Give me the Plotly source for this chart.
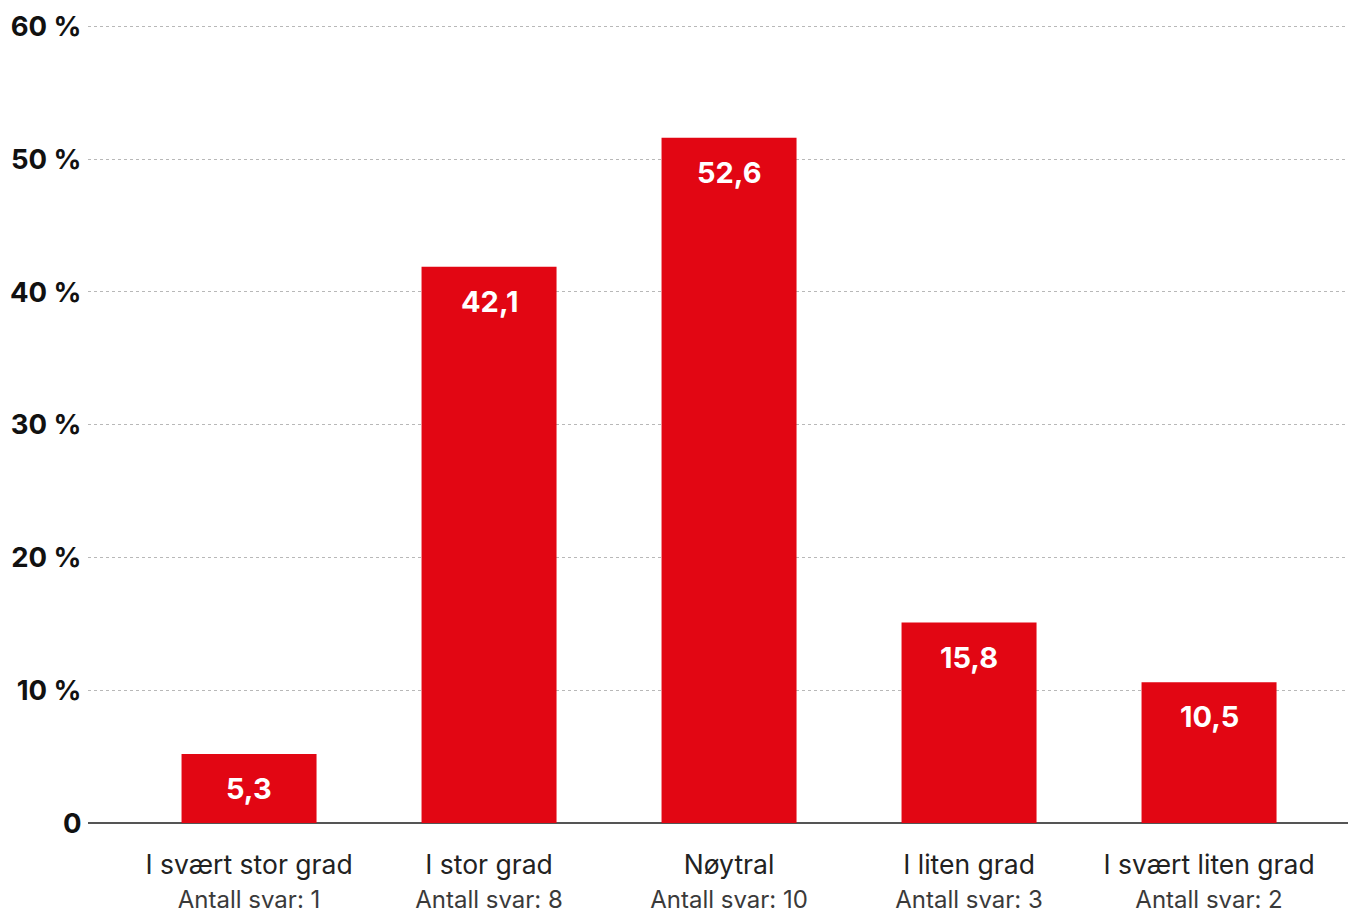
import plotly.graph_objects as go

categories = ["I svært stor grad", "I stor grad", "Nøytral", "I liten grad", "I svært liten grad"]
answers = [1, 8, 10, 3, 2]
bar_heights = [5.2, 41.9, 51.6, 15.1, 10.6]
value_labels = ["5,3", "42,1", "52,6", "15,8", "10,5"]
y_tickvals = [0, 10, 20, 30, 40, 50, 60]
y_ticktext = ["0", "10 %", "20 %", "30 %", "40 %", "50 %", "60 %"]

RED = "#E20613"
FONT = "Inter, Roboto, 'Open Sans', sans-serif"

tick_text = [
    f"{c}<br><span style='font-size:24px;color:#3a3a3a'>Antall svar: {n}</span>"
    for c, n in zip(categories, answers)
]

fig = go.Figure()
fig.add_trace(go.Bar(
    x=list(range(len(categories))),
    y=bar_heights,
    marker=dict(color=RED, line=dict(width=0)),
    width=0.5625,
    hoverinfo="skip",
))

for i, (h, t) in enumerate(zip(bar_heights, value_labels)):
    fig.add_annotation(
        x=i, y=h, text=f"<b>{t}</b>", showarrow=False,
        yanchor="top", yshift=-15,
        font=dict(family=FONT, size=29, color="white"),
    )

fig.update_layout(
    width=1348, height=913,
    margin=dict(l=88, r=0, t=25, b=90),
    paper_bgcolor="white", plot_bgcolor="white",
    showlegend=False,
    font=dict(family=FONT, color="#111"),
    xaxis=dict(
        range=[-0.671, 4.579],
        tickvals=list(range(len(categories))),
        ticktext=tick_text,
        tickfont=dict(family=FONT, size=26.5, color="#222"),
        showgrid=False, zeroline=False, showline=False,
        ticks="outside", ticklen=18, tickcolor="rgba(0,0,0,0)",
        automargin=False,
    ),
    yaxis=dict(
        range=[0, 60.1],
        tickvals=y_tickvals,
        ticktext=[f"<b>{t}</b>" for t in y_ticktext],
        tickfont=dict(family=FONT, size=27.5, color="#111"),
        showgrid=True, gridcolor="#b8b8b8", gridwidth=1, griddash="dot",
        zeroline=True, zerolinecolor="#555", zerolinewidth=2,
        showline=False,
        ticks="outside", ticklen=0, tickcolor="rgba(0,0,0,0)",
        automargin=False,
    ),
)

fig.write_html("out.html")
